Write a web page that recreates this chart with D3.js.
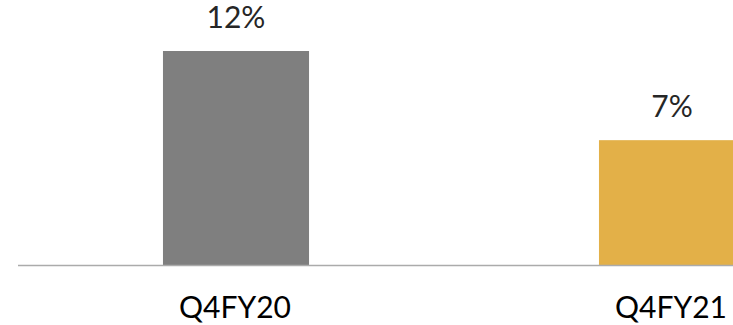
<!DOCTYPE html>
<html>
<head>
<meta charset="utf-8">
<script src="https://cdn.jsdelivr.net/npm/d3@7"></script>
<style>
  html, body { margin: 0; padding: 0; background: #fff; overflow: hidden; }
  svg { display: block; }
</style>
</head>
<body>
<div id="chart"></div>
<script>
// Quarterly growth, two periods
const categories = ["Q4FY20", "Q4FY21"];
const values = [0.12, 0.07];
const barColors = ["#7f7f7f", "#e3b048"];

const W = 733, H = 325;
const svg = d3.select("#chart").append("svg")
  .attr("width", W).attr("height", H);

const baseY = 265;
const x = d3.scaleBand()
  .domain(categories)
  .range([18, 890])
  .paddingInner(0.665)
  .paddingOuter(0.3325);

const y = d3.scaleLinear()
  .domain([0, 0.12])
  .range([baseY, 51]);

const fmt = d3.format(".0%");
const font = "Lato, 'Noto Sans', sans-serif";

// bars
svg.selectAll("rect.bar")
  .data(categories)
  .join("rect")
  .attr("class", "bar")
  .attr("x", d => x(d))
  .attr("y", (d, i) => y(values[i]))
  .attr("width", x.bandwidth())
  .attr("height", (d, i) => baseY - y(values[i]))
  .attr("fill", (d, i) => barColors[i]);

// baseline
svg.append("line")
  .attr("x1", 18).attr("x2", 890)
  .attr("y1", baseY + 0.5).attr("y2", baseY + 0.5)
  .attr("stroke", "#ababab")
  .attr("stroke-width", 1.5);

// value labels
svg.selectAll("text.val")
  .data(categories)
  .join("text")
  .attr("class", "val")
  .attr("x", d => x(d) + x.bandwidth() / 2)
  .attr("y", (d, i) => y(values[i]) - 23)
  .attr("text-anchor", "middle")
  .attr("font-family", font)
  .attr("font-size", 30)
  .attr("fill", "#262626")
  .text((d, i) => fmt(values[i]));

// category labels
svg.selectAll("text.cat")
  .data(categories)
  .join("text")
  .attr("class", "cat")
  .attr("x", d => x(d) + x.bandwidth() / 2 - 1)
  .attr("y", 318)
  .attr("text-anchor", "middle")
  .attr("font-family", font)
  .attr("font-size", 30)
  .attr("fill", "#000")
  .text(d => d);
</script>
</body>
</html>
